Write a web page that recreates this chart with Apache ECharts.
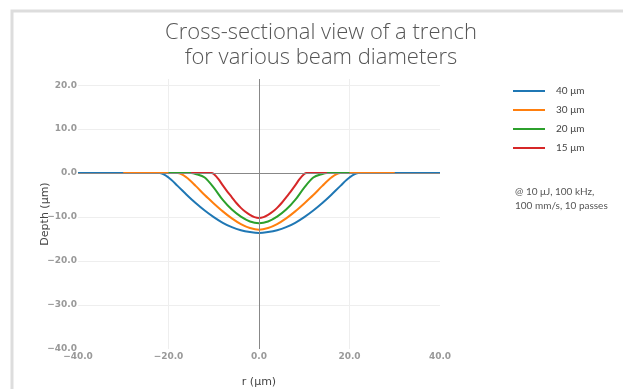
<!DOCTYPE html>
<html>
<head>
<meta charset="utf-8">
<script src="https://cdn.jsdelivr.net/npm/echarts@6.0.0/dist/echarts.min.js"></script>
<style>
  html, body { margin: 0; padding: 0; background: #fff; }
  #chart { width: 623px; height: 389px; }
</style>
</head>
<body>
<div id="chart"></div>
<script>
// beam diameters (legend)
const seriesNames = ["40 μm", "30 μm", "20 μm", "15 μm"];
const colors = ["#1f77b4", "#ff7f0e", "#2ca02c", "#d62728"];

// r (µm) / depth (µm)
const r40 = [-40, -30, -24, -22, -20, -18, -16, -14, -12, -10, -8, -6, -4, -2, 0, 2, 4, 6, 8, 10, 12, 14, 16, 18, 20, 22, 24, 30, 40];
const d40 = [0, 0, 0, 0, -1.0, -2.9, -4.9, -6.8, -8.5, -10.0, -11.3, -12.3, -13.0, -13.4, -13.6, -13.4, -13.0, -12.3, -11.3, -10.0, -8.5, -6.8, -4.9, -2.9, -1.0, 0, 0, 0, 0];

const r30 = [-30, -24, -20, -18, -16, -14, -12, -10, -8, -6, -4, -2, 0, 2, 4, 6, 8, 10, 12, 14, 16, 18, 20, 24, 30];
const d30 = [0, 0, 0, 0, -1.0, -2.9, -5.0, -6.9, -8.7, -10.3, -11.6, -12.5, -12.9, -12.5, -11.6, -10.3, -8.7, -6.9, -5.0, -2.9, -1.0, 0, 0, 0, 0];

const r20 = [-20, -17, -15, -14, -12, -10, -8, -6, -4, -2, 0, 2, 4, 6, 8, 10, 12, 14, 15, 17, 20];
const d20 = [0, 0, 0, -0.2, -1.0, -3.3, -6.1, -8.3, -9.9, -11.0, -11.4, -11.0, -9.9, -8.3, -6.1, -3.3, -1.0, -0.2, 0, 0, 0];

const r15 = [-15, -12, -10.5, -10, -9, -8, -7, -6, -5, -4, -3, -2, -1, 0, 1, 2, 3, 4, 5, 6, 7, 8, 9, 10, 10.5, 12, 15];
const d15 = [0, 0, 0, -0.2, -1.3, -2.8, -4.2, -5.5, -6.8, -7.9, -8.8, -9.5, -10.0, -10.2, -10.0, -9.5, -8.8, -7.9, -6.8, -5.5, -4.2, -2.8, -1.3, -0.2, 0, 0, 0];

const allR = [r40, r30, r20, r15];
const allD = [d40, d30, d20, d15];

const xTicks = { min: -40, max: 40, interval: 20 };
const yTicks = { min: -40, max: 21.4, interval: 10 };

const tickFont = {
  fontFamily: "DejaVu Sans",
  fontSize: 9,
  fontWeight: "bold",
  color: "#999",
};

const chart = echarts.init(document.getElementById("chart"));

const series = seriesNames.map((name, i) => {
  const s = {
    name: name,
    type: "line",
    data: allR[i].map((r, k) => [r, allD[i][k]]),
    showSymbol: false,
    smooth: 0.3,
    lineStyle: { width: 2, color: colors[i] },
    itemStyle: { color: colors[i] },
  };
  if (i === 0) {
    // zero lines
    s.markLine = {
      silent: true,
      symbol: "none",
      label: { show: false },
      lineStyle: { color: "#888", width: 1, type: "solid" },
      data: [{ xAxis: 0 }, { yAxis: 0 }],
    };
  }
  return s;
});

chart.setOption({
  animation: false,
  title: {
    text: "Cross-sectional view of a trench\nfor various beam diameters",
    left: 316,
    textAlign: "center",
    top: 15,
    textStyle: {
      fontFamily: "Open Sans",
      fontWeight: 300,
      fontSize: 22,
      lineHeight: 25,
      color: "#555",
    },
  },
  legend: {
    orient: "vertical",
    left: 508,
    top: 80,
    itemWidth: 32,
    itemHeight: 2,
    itemGap: 7,
    icon: "rect",
    data: seriesNames,
    textStyle: {
      fontFamily: "Lato",
      fontSize: 10,
      lineHeight: 12,
      color: "#444",
      padding: [0, 0, 0, 6],
    },
  },
  graphic: [
    {
      type: "rect",
      shape: { x: 12, y: 11, width: 800, height: 600 },
      style: { fill: "none", stroke: "#ddd", lineWidth: 3 },
      silent: true,
    },
    {
      type: "text",
      left: 515,
      top: 185,
      style: {
        text: "@ 10 μJ, 100 kHz,\n100 mm/s, 10 passes",
        fontFamily: "Lato",
        fontSize: 10,
        lineHeight: 14,
        fill: "#555",
      },
    },
  ],
  grid: { left: 78, top: 79, width: 362, height: 270, outerBoundsMode: "none" },
  xAxis: {
    type: "value",
    min: xTicks.min,
    max: xTicks.max,
    interval: xTicks.interval,
    name: "r (μm)",
    nameLocation: "middle",
    nameGap: 28,
    nameMoveOverlap: false,
    nameTextStyle: { fontFamily: "DejaVu Sans", fontSize: 11, color: "#444" },
    axisLine: { show: false },
    axisTick: { show: false },
    axisLabel: Object.assign({ margin: 3, formatter: (v) => v.toFixed(1).replace("-", "−") }, tickFont),
    splitLine: { show: true, showMinLine: false, showMaxLine: false, lineStyle: { color: "#eee", width: 1 } },
  },
  yAxis: {
    type: "value",
    min: yTicks.min,
    max: yTicks.max,
    interval: yTicks.interval,
    name: "Depth (μm)",
    nameLocation: "middle",
    nameGap: 27,
    nameMoveOverlap: false,
    nameTextStyle: { fontFamily: "DejaVu Sans", fontSize: 11, color: "#444" },
    axisLine: { show: false },
    axisTick: { show: false },
    axisLabel: Object.assign({
      margin: 1,
      showMaxLabel: false,
      formatter: (v) => (v % 10 === 0 ? v.toFixed(1).replace("-", "−") : ""),
    }, tickFont),
    splitLine: { show: true, showMinLine: false, showMaxLine: false, lineStyle: { color: "#eee", width: 1 } },
  },
  series: series,
});
</script>
</body>
</html>
